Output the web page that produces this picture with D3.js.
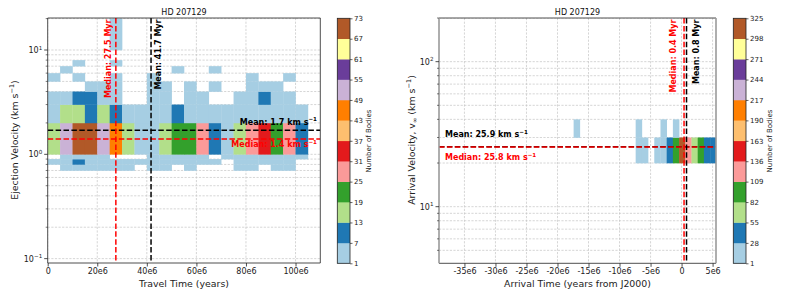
<!DOCTYPE html>
<html>
<head>
<meta charset="utf-8">
<script src="https://cdn.jsdelivr.net/npm/d3@7"></script>
<style>
body { margin: 0; background: #fff; }
text { font-family: "DejaVu Sans", sans-serif; }
</style>
</head>
<body>
<svg id="fig" width="793" height="297"></svg>
<script>
///////  data ///////

var travelEdges = [0, 5e6, 10e6, 15e6, 20e6, 25e6, 30e6, 35e6, 40e6, 45e6, 50e6, 55e6,
                   60e6, 65e6, 70e6, 75e6, 80e6, 85e6, 90e6, 95e6, 100e6, 105e6];
var ejectEdges = [0.7, 0.8, 0.9, 1, 2, 3, 4, 5, 6, 7, 8, 9, 10, 20];
// one row per ejection velocity bin (bottom to top), one value per travel time bin
var ejectCounts = [
  [0, 4, 4, 4, 4, 4, 4, 0, 4, 4, 0, 4, 0, 0, 0, 4, 4, 0, 4, 4, 0],
  [4, 4, 10, 4, 4, 4, 4, 4, 4, 4, 4, 4, 4, 4, 0, 4, 4, 4, 4, 4, 0],
  [0, 4, 4, 4, 4, 0, 0, 0, 4, 4, 4, 4, 4, 0, 4, 4, 4, 4, 4, 4, 4],
  [16, 52, 70, 70, 52, 46, 16, 4, 4, 16, 22, 22, 28, 10, 4, 16, 28, 34, 22, 28, 10],
  [4, 16, 16, 10, 16, 10, 4, 4, 4, 4, 10, 4, 4, 4, 4, 4, 4, 4, 4, 4, 4],
  [4, 4, 10, 10, 4, 4, 0, 0, 4, 4, 0, 4, 4, 0, 0, 4, 4, 10, 4, 4, 0],
  [0, 0, 0, 4, 4, 4, 0, 0, 4, 4, 0, 4, 0, 4, 0, 0, 4, 4, 4, 0, 0],
  [4, 0, 4, 0, 0, 4, 0, 0, 4, 0, 0, 0, 0, 0, 0, 0, 4, 0, 0, 4, 0],
  [0, 4, 0, 0, 0, 0, 0, 0, 0, 0, 4, 0, 0, 4, 0, 0, 0, 0, 0, 0, 0],
  [0, 0, 4, 0, 0, 4, 0, 0, 0, 0, 0, 0, 0, 0, 0, 0, 0, 0, 0, 0, 0],
  [0, 0, 0, 0, 0, 0, 0, 0, 0, 0, 0, 0, 0, 0, 0, 0, 0, 0, 0, 0, 0],
  [0, 0, 0, 0, 0, 0, 0, 0, 0, 0, 0, 0, 0, 0, 0, 0, 0, 0, 0, 0, 0],
  [0, 0, 0, 0, 0, 4, 0, 0, 0, 0, 0, 0, 0, 0, 0, 0, 0, 0, 0, 0, 0]
];

var arrivalEdges = [-17.4e6, -16.4e6, -15.4e6, -14.4e6, -13.4e6, -12.4e6, -11.4e6, -10.4e6,
                    -9.4e6, -8.4e6, -7.4e6, -6.4e6, -5.4e6, -4.4e6, -3.4e6, -2.4e6, -1.4e6,
                    -0.4e6, 0.6e6, 1.6e6, 2.6e6, 3.6e6, 4.6e6, 5.6e6];
var arrivalVelEdges = [20, 30, 40];
var arrivalCounts = [
  [0, 0, 0, 0, 0, 0, 0, 0, 0, 0, 10, 10, 0, 10, 10, 40, 95, 320, 122, 68, 95, 40, 40],
  [10, 0, 0, 0, 0, 0, 0, 0, 0, 0, 10, 0, 0, 0, 10, 0, 10, 0, 0, 0, 0, 0, 0]
];

var travelTicks = [0, 20e6, 40e6, 60e6, 80e6, 100e6];
var arrivalTicks = [-35e6, -30e6, -25e6, -20e6, -15e6, -10e6, -5e6, 0, 5e6];
var ejectCbTicks = [1, 7, 13, 19, 25, 31, 37, 43, 49, 55, 61, 67, 73];
var arrivalCbTicks = [1, 28, 55, 82, 109, 136, 163, 190, 217, 244, 271, 298, 325];

var ejectStats = {meanT: 41.7e6, medianT: 27.5e6, meanV: 1.7, medianV: 1.4};
var arrivalStats = {meanT: 0.8e6, medianT: 0.4e6, meanV: 25.9, medianV: 25.8};

///////  helpers ///////

var svg = d3.select("#fig");
var dash = "5.5,2.4";

// text with pieces that may be superscript / subscript
function richText(g, parts, size) {
    var t = g.append("text").attr("font-size", size + "px");
    var shift = 0;
    parts.forEach(function(p) {
        var s = p[1] || 0;   // 1 = sup, -1 = sub
        var target = s == 1 ? -size * 0.42 : (s == -1 ? size * 0.2 : 0);
        t.append("tspan")
         .attr("dy", target - shift)
         .attr("font-size", (s ? size * 0.7 : size) + "px")
         .text(p[0]);
        shift = target;
    });
    return t;
}

function fmtE6(d) {
    return d == 0 ? "0" : (d / 1e6) + "e6";
}

function panel(o) {
    var x0 = o.x.range()[0], x1 = o.x.range()[1];
    var y0 = o.y.range()[1], y1 = o.y.range()[0];
    var g = svg.append("g");

    var clipId = "clip" + o.id;
    svg.append("defs").append("clipPath").attr("id", clipId)
       .append("rect").attr("x", x0).attr("y", y0).attr("width", x1 - x0).attr("height", y1 - y0);

    // grid
    var grid = g.append("g").attr("clip-path", "url(#" + clipId + ")")
        .attr("stroke", "#c4c4c4").attr("stroke-width", 0.7).attr("stroke-dasharray", "2.2,1.4");
    o.xTicks.forEach(function(d) {
        grid.append("line").attr("x1", o.x(d)).attr("x2", o.x(d)).attr("y1", y0).attr("y2", y1);
    });
    o.yGrid.forEach(function(d) {
        grid.append("line").attr("x1", x0).attr("x2", x1).attr("y1", o.y(d)).attr("y2", o.y(d));
    });

    // histogram cells
    var cells = g.append("g").attr("clip-path", "url(#" + clipId + ")");
    o.counts.forEach(function(row, j) {
        row.forEach(function(c, i) {
            if (c <= 0) return;
            var xa = o.x(o.xEdges[i]), xb = o.x(o.xEdges[i + 1]);
            var ya = o.y(o.yEdges[j + 1]), yb = o.y(o.yEdges[j]);
            cells.append("rect")
                .attr("x", xa).attr("y", ya)
                .attr("width", xb - xa + 0.3).attr("height", yb - ya + 0.3)
                .attr("fill", o.color(c));
        });
    });

    // mean / median lines
    var lines = g.append("g").attr("clip-path", "url(#" + clipId + ")")
        .attr("stroke-width", 1.5).attr("stroke-dasharray", dash).attr("fill", "none");
    lines.append("line").attr("stroke", "black")
        .attr("x1", x0).attr("x2", x1).attr("y1", o.y(o.stats.meanV)).attr("y2", o.y(o.stats.meanV));
    lines.append("line").attr("stroke", "red")
        .attr("x1", x0).attr("x2", x1).attr("y1", o.y(o.stats.medianV)).attr("y2", o.y(o.stats.medianV));
    lines.append("line").attr("stroke", "red")
        .attr("x1", o.x(o.stats.medianT)).attr("x2", o.x(o.stats.medianT)).attr("y1", y0).attr("y2", y1);
    lines.append("line").attr("stroke", "black")
        .attr("x1", o.x(o.stats.meanT)).attr("x2", o.x(o.stats.meanT)).attr("y1", y0).attr("y2", y1);

    // labels for the lines
    var lab = g.append("g").attr("font-weight", "bold");
    lab.append("text").attr("font-size", "8px").attr("fill", "red")
        .attr("text-anchor", "end")
        .attr("transform", "translate(" + (o.x(o.stats.medianT) + o.vOff[0]) + "," + (y0 + 1.5) + ") rotate(-90)")
        .text("Median: " + (o.stats.medianT / 1e6).toFixed(1) + " Myr");
    lab.append("text").attr("font-size", "8px").attr("fill", "black")
        .attr("text-anchor", "end")
        .attr("transform", "translate(" + (o.x(o.stats.meanT) + o.vOff[1]) + "," + (y0 + 1.5) + ") rotate(-90)")
        .text("Mean: " + (o.stats.meanT / 1e6).toFixed(1) + " Myr");

    var hm = lab.append("g").attr("transform", "translate(" + o.hX + "," + (o.y(o.stats.meanV) + o.hOff[0]) + ")");
    richText(hm, [["Mean: " + o.stats.meanV.toFixed(1) + " km s"], ["\u22121", 1]], 8)
        .attr("text-anchor", o.hAnchor).attr("fill", "black");
    var hd = lab.append("g").attr("transform", "translate(" + o.hX + "," + (o.y(o.stats.medianV) + o.hOff[1]) + ")");
    richText(hd, [["Median: " + o.stats.medianV.toFixed(1) + " km s"], ["\u22121", 1]], 8)
        .attr("text-anchor", o.hAnchor).attr("fill", "red");

    // spines
    g.append("line").attr("x1", x0).attr("x2", x1).attr("y1", y0).attr("y2", y0).attr("stroke", "#222").attr("stroke-width", 0.8);
    g.append("line").attr("x1", x0).attr("x2", x1).attr("y1", y1).attr("y2", y1).attr("stroke", "#222").attr("stroke-width", 0.8);
    g.append("line").attr("x1", x0).attr("x2", x0).attr("y1", y0).attr("y2", y1).attr("stroke", o.sideColor).attr("stroke-width", o.sideWidth);
    g.append("line").attr("x1", x1).attr("x2", x1).attr("y1", y0).attr("y2", y1).attr("stroke", o.sideColor).attr("stroke-width", o.sideWidth);

    // x axis
    var xa = g.append("g").attr("transform", "translate(0," + y1 + ")")
        .call(d3.axisBottom(o.x).tickValues(o.xTicks).tickFormat(fmtE6).tickSize(3.5).tickPadding(2));
    xa.select(".domain").remove();
    xa.selectAll("text").attr("font-size", "8px").attr("fill", "#222").style("font-family", "DejaVu Sans");
    xa.selectAll("line").attr("stroke", "#222").attr("stroke-width", 0.8);

    // y axis (log, minor ticks)
    var ya = g.append("g");
    o.yGrid.forEach(function(d) {
        var major = o.yMajor.indexOf(d) >= 0;
        ya.append("line").attr("x1", x0 - (major ? 3.5 : 2)).attr("x2", x0)
          .attr("y1", o.y(d)).attr("y2", o.y(d)).attr("stroke", "#222").attr("stroke-width", major ? 0.8 : 0.6);
    });
    o.yMajor.forEach(function(d, k) {
        var tg = ya.append("g").attr("transform", "translate(" + (x0 - 5.5) + "," + (o.y(d) + 3) + ")");
        richText(tg, [["10"], [o.yExp[k], 1]], 8).attr("text-anchor", "end").attr("fill", "#222");
    });

    // title and axis labels
    g.append("text").attr("x", (x0 + x1) / 2).attr("y", 14.5).attr("text-anchor", "middle")
        .attr("font-size", "8px").attr("fill", "#111").text("HD 207129");
    g.append("text").attr("x", (x0 + x1) / 2).attr("y", 287).attr("text-anchor", "middle")
        .attr("font-size", "9.4px").attr("fill", "#222").text(o.xLabel);
    var yl = g.append("g").attr("transform", "translate(" + o.yLabelX + ",140) rotate(-90)");
    richText(yl, o.yLabel, 9.4).attr("text-anchor", "middle").attr("fill", "#222");

    // colorbar
    var cb = svg.append("g");
    var cy = d3.scaleLinear().domain([o.cbTicks[0], o.cbTicks[o.cbTicks.length - 1]]).range([263.3, 18.3]);
    for (var k = 0; k < o.cbTicks.length - 1; k++) {
        cb.append("rect").attr("x", o.cbX).attr("width", 12.7)
          .attr("y", cy(o.cbTicks[k + 1])).attr("height", cy(o.cbTicks[k]) - cy(o.cbTicks[k + 1]) + 0.3)
          .attr("fill", o.color((o.cbTicks[k] + o.cbTicks[k + 1]) / 2));
    }
    cb.append("rect").attr("x", o.cbX).attr("width", 12.7).attr("y", 18.3).attr("height", 245)
      .attr("fill", "none").attr("stroke", "#222").attr("stroke-width", 0.8);
    var ca = cb.append("g").attr("transform", "translate(" + (o.cbX + 12.7) + ",0)")
        .call(d3.axisRight(cy).tickValues(o.cbTicks).tickSize(2.5).tickPadding(1.5));
    ca.select(".domain").remove();
    ca.selectAll("text").attr("font-size", "7px").attr("fill", "#222").style("font-family", "DejaVu Sans");
    ca.selectAll("line").attr("stroke", "#222").attr("stroke-width", 0.7);
    cb.append("text").attr("transform", "translate(" + (o.cbX + o.cbLabelOff) + ",141) rotate(-90)")
      .attr("text-anchor", "middle").attr("font-size", "7px").attr("fill", "#222").text("Number of Bodies");
}

///////  left panel: ejection velocity vs travel time ///////

var ejectColor = d3.scaleQuantize().domain([1, 73]).range(d3.schemePaired);

panel({
    id: "L",
    x: d3.scaleLinear().domain([0, 110e6]).range([47.7, 320.3]),
    y: d3.scaleLog().domain([0.0908, 20.27]).range([263, 18]),
    xEdges: travelEdges, yEdges: ejectEdges, counts: ejectCounts,
    color: ejectColor, stats: ejectStats,
    xTicks: travelTicks,
    yGrid: [0.1, 0.2, 0.3, 0.4, 0.5, 0.6, 0.7, 0.8, 0.9, 1, 2, 3, 4, 5, 6, 7, 8, 9, 10, 20],
    yMajor: [0.1, 1, 10], yExp: ["\u22121", "0", "1"],
    vOff: [-5, 10], hX: 317, hAnchor: "end", hOff: [-5.7, 8],
    sideColor: "#222", sideWidth: 0.8,
    xLabel: "Travel Time (years)",
    yLabel: [["Ejection Velocity (km s"], ["\u22121", 1], [")"]], yLabelX: 18,
    cbX: 337.3, cbTicks: ejectCbTicks, cbLabelOff: 33.5
});

///////  right panel: arrival velocity vs arrival time ///////

var arrivalColor = d3.scaleQuantize().domain([1, 325]).range(d3.schemePaired);

panel({
    id: "R",
    x: d3.scaleLinear().domain([-39.1e6, 5.55e6]).range([439, 716]),
    y: d3.scaleLog().domain([4.07, 200]).range([263.3, 18]),
    xEdges: arrivalEdges, yEdges: arrivalVelEdges, counts: arrivalCounts,
    color: arrivalColor, stats: arrivalStats,
    xTicks: arrivalTicks,
    yGrid: [5, 6, 7, 8, 9, 10, 20, 30, 40, 50, 60, 70, 80, 90, 100, 200],
    yMajor: [10, 100], yExp: ["1", "2"],
    vOff: [-7.6, 12.6], hX: 445, hAnchor: "start", hOff: [-9.5, 13],
    sideColor: "#9a9a9a", sideWidth: 1.6,
    xLabel: "Arrival Time (years from J2000)",
    yLabel: [["Arrival Velocity, v"], ["\u221e", -1], [" (km s"], ["\u22121", 1], [")"]], yLabelX: 415,
    cbX: 733.3, cbTicks: arrivalCbTicks, cbLabelOff: 38.5
});
</script>
</body>
</html>
